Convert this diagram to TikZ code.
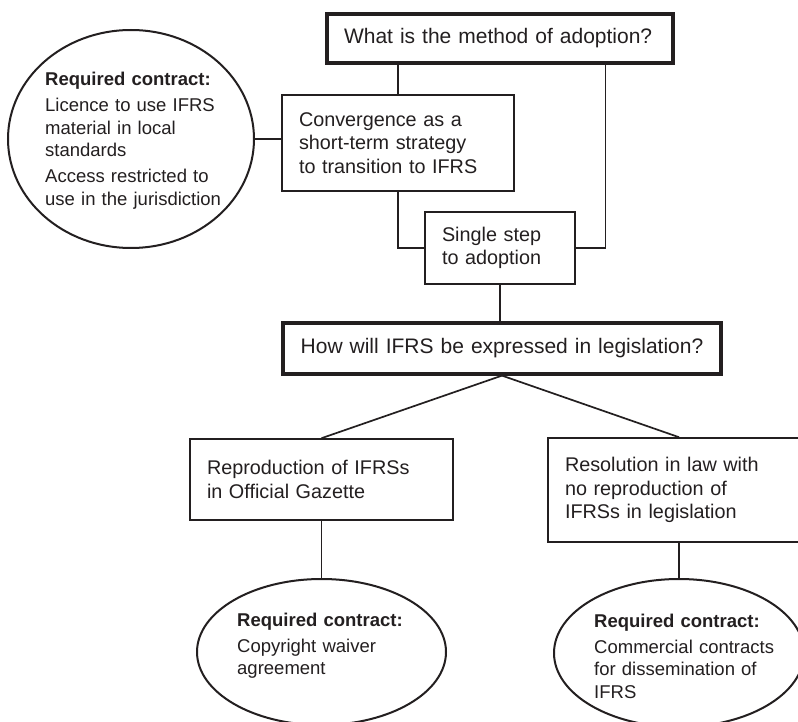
\documentclass[tikz,border=0pt]{standalone}
\usepackage{fontspec}
\setmainfont{Liberation Sans}
\usetikzlibrary{shapes.geometric}
\definecolor{ink}{HTML}{231F20}
\tikzset{
  qbox/.style={draw=ink, text=ink, line width=3.2pt, inner xsep=17pt, inner ysep=0pt, font=\fontsize{21}{25}\selectfont},
  abox/.style={draw=ink, text=ink, line width=1.6pt, inner xsep=17pt, inner ysep=0pt, align=left, font=\fontsize{19.8}{23.5}\selectfont},
  oval/.style={draw=ink, line width=2pt, ellipse, inner sep=0pt},
  ovaltext/.style={text=ink, inner sep=0pt, align=left, text width=190pt, anchor=base west, font=\fontsize{18.5}{22.5}\selectfont},
  link/.style={draw=ink, line width=1.7pt},
}
\begin{document}
\begin{tikzpicture}[x=1pt,y=-1pt]
\useasboundingbox (0,0) rectangle (798,722);
\clip (0,0) rectangle (798,722);
\fill[white] (0,0) rectangle (798,722);

% boxes
\node[qbox, text width=312pt, align=left, minimum height=49pt] (top) at (500,38.5) {What is the method of adoption?};
\node[abox, text width=198pt, minimum height=96pt] (conv) at (398,143) {Convergence as a\\short-term strategy\\to transition to IFRS};
\node[abox, text width=116pt, minimum height=72pt] (single) at (500,248) {Single step\\to adoption};
\node[qbox, text width=404pt, align=center, minimum height=51pt] (leg) at (502,348.5) {How will IFRS be expressed in legislation?};
\node[abox, text width=229pt, minimum height=81pt] (repro) at (321.5,479.5) {Reproduction of IFRSs\\in Official Gazette};
\node[abox, text width=228pt, minimum height=104pt] (res) at (679,490) {Resolution in law with\\no reproduction of\\IFRSs in legislation};

% ellipses
\node[oval, minimum width=246pt, minimum height=218pt] (ellL) at (131,139) {};
\node[ovaltext] (ellLtxt) at (45,86) {\textbf{Required contract:}\\[3.5pt]Licence to use IFRS\\material in local\\standards\\[3.5pt]Access restricted to\\use in the jurisdiction};
\node[oval, minimum width=249pt, minimum height=146pt] (ellBL) at (321.5,652) {};
\node[ovaltext] (ellBLtxt) at (237,626) {\textbf{Required contract:}\\[3.5pt]Copyright waiver\\agreement};
\node[oval, minimum width=250pt, minimum height=148pt] (ellBR) at (679,653) {};
\node[ovaltext] (ellBRtxt) at (594,627) {\textbf{Required contract:}\\[3.5pt]Commercial contracts\\for dissemination of\\IFRS};

% connectors
\draw[link] (conv.north |- top.south) -- (conv.north);
\draw[link] (conv.south) |- (single.west);
\draw[link] ([xshift=280pt]top.south west) |- (single.east);
\draw[link] (ellL.east) -- (ellL.east -| conv.west);
\draw[link] (single.south) -- (single.south |- leg.north);
\draw[link] (leg.south) -- (repro.north);
\draw[link] (leg.south) -- (res.north);
\draw[link] (repro.south) -- (ellBL.north);
\draw[link] (res.south) -- (ellBR.north);
\end{tikzpicture}
\end{document}
